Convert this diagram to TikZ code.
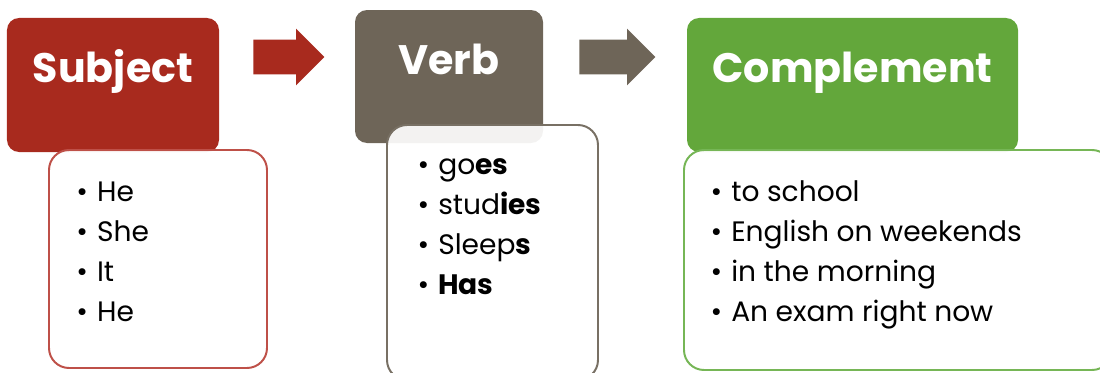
\documentclass[tikz,border=0pt]{standalone}
\usepackage{fontspec}
\setmainfont{Poppins}
\usetikzlibrary{shapes.arrows,positioning,calc}

\definecolor{subjred}{RGB}{168,42,30}
\definecolor{subjline}{RGB}{190,80,72}
\definecolor{verbgray}{RGB}{110,101,88}
\definecolor{verbline}{RGB}{120,112,100}
\definecolor{compgreen}{RGB}{99,167,59}
\definecolor{compline}{RGB}{118,182,86}

\tikzset{
  headbox/.style={rectangle, rounded corners=0.3cm, inner sep=0pt},
  listbox/.style={rectangle, rounded corners=0.5cm, draw, line width=1.4pt,
    fill=white, fill opacity=0.92, inner sep=0pt},
  headtext/.style={anchor=base, text=white, font=\fontsize{29.3}{34}\selectfont\bfseries},
  item/.style={anchor=base west, inner sep=0pt, font=\fontsize{20}{24}\selectfont},
  blockarrow/.style={single arrow, anchor=west, minimum height=1.8cm, inner xsep=0pt,
    inner ysep=0.43cm, single arrow head extend=0.27cm, draw=none},
}
\newcommand{\bul}[1]{\makebox[0.52cm][l]{\textbullet}#1}

\begin{document}
\begin{tikzpicture}
  \useasboundingbox (0,0) rectangle (27.5,-9.325);

  % Subject
  \node[headbox, fill=subjred, minimum width=5.3cm, minimum height=3.35cm] (subj) at (2.825,-2.125) {};
  \node[headtext] (subjtitle) at ([yshift=-1.625cm]subj.north) {Subject};
  \node[listbox, draw=subjline, minimum width=5.45cm, minimum height=5.45cm] (subjlist) at (3.95,-6.475) {};

  % Verb
  \node[headbox, fill=verbgray, minimum width=4.7cm, minimum height=3.325cm] (verb) at (11.225,-1.9125) {};
  \node[headtext] (verbtitle) at ([yshift=-1.625cm]verb.north) {Verb};
  \node[listbox, draw=verbline, minimum width=5.275cm, minimum height=6.375cm] (verblist) at (12.3125,-6.3125) {};

  % Complement
  \node[headbox, fill=compgreen, minimum width=8.275cm, minimum height=3.35cm] (comp) at (21.3125,-2.125) {};
  \node[headtext] (comptitle) at ([yshift=-1.625cm]comp.north) {Complement};
  \node[listbox, draw=compline, minimum width=10.7cm, minimum height=5.5cm] (complist) at (22.45,-6.5) {};

  % Arrows
  \node[blockarrow, fill=subjred, minimum height=1.78cm] (arrowA) at (6.325,-1.425) {};
  \node[blockarrow, fill=verbgray, minimum height=1.9cm] (arrowB) at (14.475,-1.425) {};

  % Subject items
  \node[item] (s1) at ($(subjlist.north west)+(0.7,-1.3)$) {\bul{He}};
  \node[item] (s2) at ([yshift=-1cm]s1.base west) {\bul{She}};
  \node[item] (s3) at ([yshift=-1cm]s2.base west) {\bul{It}};
  \node[item] (s4) at ([yshift=-1cm]s3.base west) {\bul{He}};

  % Verb items
  \node[item] (v1) at ($(verblist.north west)+(0.78,-1.25)$) {\bul{go\textbf{es}}};
  \node[item] (v2) at ([yshift=-1cm]v1.base west) {\bul{stud\textbf{ies}}};
  \node[item] (v3) at ([yshift=-1cm]v2.base west) {\bul{Sleep\textbf{s}}};
  \node[item] (v4) at ([yshift=-1cm]v3.base west) {\bul{\textbf{Has}}};

  % Complement items
  \node[item] (c1) at ($(complist.north west)+(0.68,-1.3)$) {\bul{to school}};
  \node[item] (c2) at ([yshift=-1cm]c1.base west) {\bul{English on weekends}};
  \node[item] (c3) at ([yshift=-1cm]c2.base west) {\bul{in the morning}};
  \node[item] (c4) at ([yshift=-1cm]c3.base west) {\bul{An exam right now}};
\end{tikzpicture}
\end{document}
